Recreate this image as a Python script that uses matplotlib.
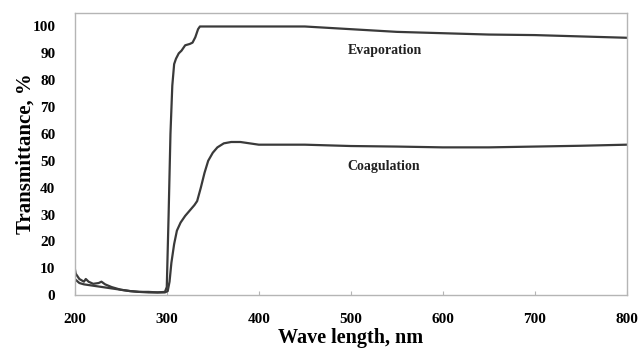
import numpy as np
import matplotlib.pyplot as plt

# wavelength (nm) and transmittance (%)
wl_evap = [200, 205, 210, 220, 230, 240, 250, 260, 270, 280, 290, 298, 300, 302,
           304, 306, 308, 310, 313, 316, 320, 325, 328, 331, 334, 336, 350, 400,
           450, 500, 550, 600, 650, 700, 750, 800]
tr_evap = [6, 4.5, 4, 3.5, 3, 2.5, 2, 1.5, 1.2, 1, 1, 1.2, 3, 30,
           60, 78, 86, 88, 90, 91, 93, 93.5, 94, 96, 99, 100, 100, 100,
           100, 99, 98, 97.5, 97, 96.8, 96.3, 95.8]

wl_coag = [200, 201, 205, 210, 212, 215, 220, 226, 229, 233, 240, 250, 260, 270,
           280, 290, 298, 301, 303, 305, 308, 311, 315, 320, 325, 330, 333, 337,
           341, 345, 350, 355, 362, 370, 380, 400, 450, 500, 550, 600, 650, 700,
           750, 800]
tr_coag = [10, 8, 6, 5, 6, 5, 4.2, 4.5, 5, 4, 3, 2, 1.5, 1.2,
           1.2, 1, 1, 1.5, 5, 12, 19, 24, 27, 29.5, 31.5, 33.5, 35, 40,
           45.5, 50, 53, 55, 56.5, 57, 57, 56, 56, 55.5, 55.3, 55, 55, 55.3,
           55.6, 56]

line_color = '#3a3a3a'

fig = plt.figure(figsize=(6.39, 3.53), dpi=100)
ax = fig.add_axes([0.117, 0.164, 0.864, 0.799])

ax.plot(wl_evap, tr_evap, color=line_color, lw=1.6)
ax.plot(wl_coag, tr_coag, color=line_color, lw=1.6)

ax.set_xlim(200, 800)
ax.set_ylim(0, 105)
ax.set_xticks(np.arange(200, 801, 100))
ax.set_yticks(np.arange(0, 101, 10))

serif = ['Liberation Serif', 'DejaVu Serif']
for lab in ax.get_xticklabels() + ax.get_yticklabels():
    lab.set_fontfamily(serif)
    lab.set_fontweight('bold')
    lab.set_fontsize(11)

for s in ax.spines.values():
    s.set_color('#b5b5b5')
    s.set_linewidth(1)
ax.tick_params(axis='x', direction='in', length=3, color='#b5b5b5', pad=13)
ax.tick_params(axis='y', length=0, pad=14)

ax.set_xlabel('Wave length, nm', family=serif, fontweight='bold', fontsize=14.5, labelpad=1)
ax.set_ylabel('Transmittance, %', family=serif, fontweight='bold', fontsize=15, labelpad=-2)

ax.text(537, 91, 'Evaporation', family=serif, fontweight='bold', fontsize=10,
        ha='center', va='center', color='#222222')
ax.text(536, 48, 'Coagulation', family=serif, fontweight='bold', fontsize=10,
        ha='center', va='center', color='#222222')

fig.savefig('out.png', dpi=100)
